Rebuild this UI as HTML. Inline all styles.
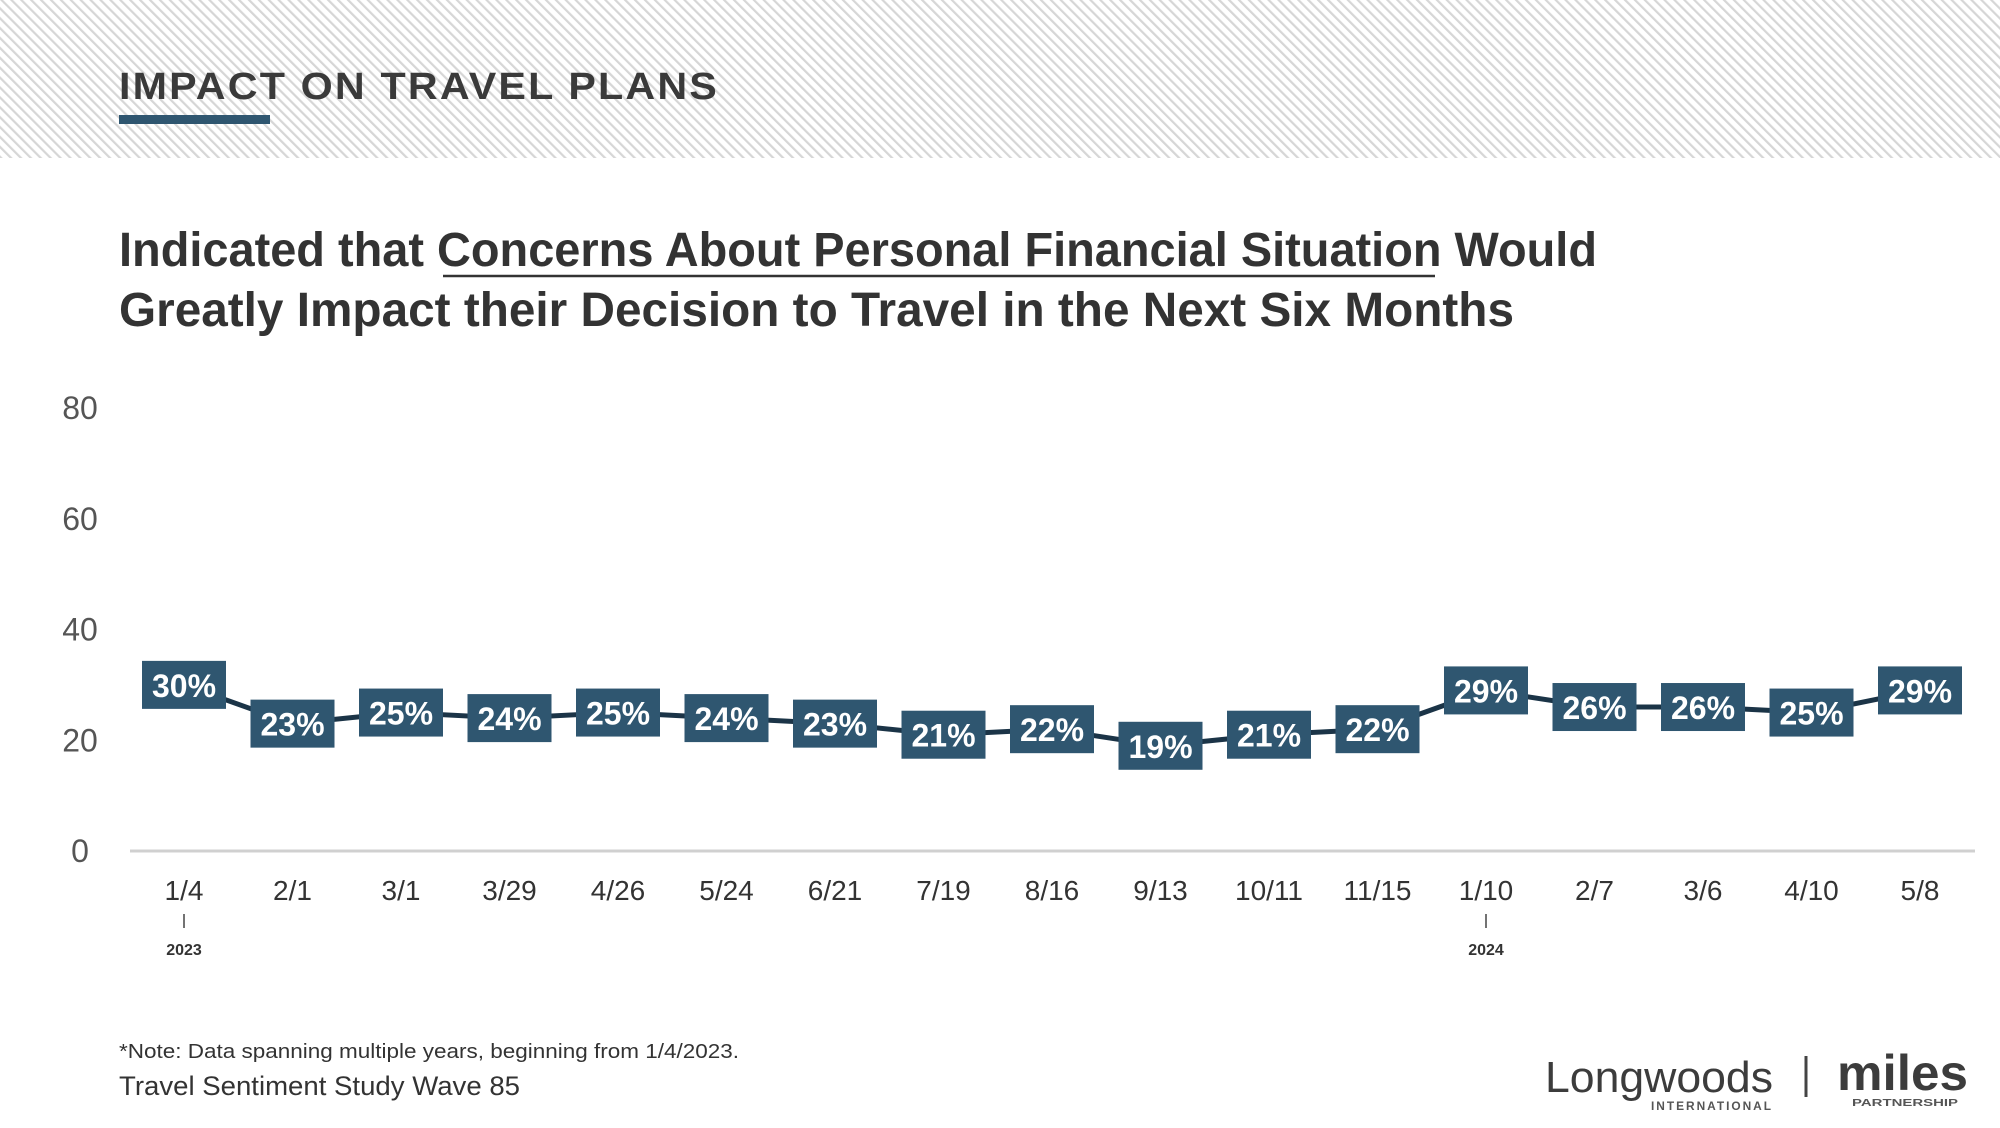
<!DOCTYPE html>
<html><head><meta charset="utf-8">
<style>
html,body{margin:0;padding:0;background:#fff;}
body{width:2000px;height:1123px;overflow:hidden;font-family:"Liberation Sans",sans-serif;}
</style></head>
<body>
<svg id="chart" width="2000" height="1123" viewBox="0 0 2000 1123" xmlns="http://www.w3.org/2000/svg">
<defs>
<pattern id="hatch" width="7" height="7" patternUnits="userSpaceOnUse" patternTransform="rotate(-45)">
<rect width="7" height="7" fill="#ffffff"/>
<rect x="0" y="0" width="2.2" height="7" fill="#d6d6d6"/>
</pattern>
</defs>
<rect x="0" y="0" width="2000" height="158" fill="url(#hatch)"/>
<text x="119" y="99" font-size="38" font-weight="bold" fill="#3a3a3a" letter-spacing="2" textLength="600" lengthAdjust="spacingAndGlyphs">IMPACT ON TRAVEL PLANS</text>
<rect x="119" y="115" width="151" height="9" fill="#2f5670"/>

<text x="119" y="266" font-size="48" font-weight="bold" fill="#333" textLength="1478" lengthAdjust="spacingAndGlyphs">Indicated that Concerns About Personal Financial Situation Would</text>
<line x1="443" y1="276" x2="1435" y2="276" stroke="#333" stroke-width="2.5"/>
<text x="119" y="326" font-size="48" font-weight="bold" fill="#333" textLength="1395" lengthAdjust="spacingAndGlyphs">Greatly Impact their Decision to Travel in the Next Six Months</text>

<g id="yaxis"></g>
<line x1="130" y1="851" x2="1975" y2="851" stroke="#d0d0d0" stroke-width="3"/>
<g id="xaxis"></g>
<g id="series"></g>

<text x="119" y="1058" font-size="20" fill="#333" textLength="620" lengthAdjust="spacingAndGlyphs">*Note: Data spanning multiple years, beginning from 1/4/2023.</text>
<text x="119" y="1095" font-size="27" fill="#333" textLength="401" lengthAdjust="spacingAndGlyphs">Travel Sentiment Study Wave 85</text>

<g>
<text x="1545" y="1092" font-size="44" fill="#3c3c3c" textLength="228" lengthAdjust="spacingAndGlyphs">Longwoods</text>
<text x="1651" y="1110" font-size="12" font-weight="bold" fill="#555" letter-spacing="2" textLength="122" lengthAdjust="spacingAndGlyphs">INTERNATIONAL</text>
</g>
<line x1="1806" y1="1056" x2="1806" y2="1097" stroke="#444" stroke-width="3"/>
<g>
<text x="1837" y="1090" font-size="50" font-weight="bold" fill="#3c3c3c" textLength="131" lengthAdjust="spacingAndGlyphs">miles</text>
<text x="1852" y="1106" font-size="10" font-weight="bold" fill="#555" textLength="106" lengthAdjust="spacingAndGlyphs">PARTNERSHIP</text>
</g>
</svg>
<script>
const categories = ["1/4","2/1","3/1","3/29","4/26","5/24","6/21","7/19","8/16","9/13","10/11","11/15","1/10","2/7","3/6","4/10","5/8"];
const values = [30,23,25,24,25,24,23,21,22,19,21,22,29,26,26,25,29];
const yTicks = [0,20,40,60,80];
const yearMarks = [{index:0,label:"2023"},{index:12,label:"2024"}];

const NS = "http://www.w3.org/2000/svg";
const x0 = 184, x1 = 1920, yBase = 851, yTop = 408, yMax = 80;
function xScale(i){ return x0 + i*(x1-x0)/(categories.length-1); }
function yScale(v){ return yBase - v*(yBase-yTop)/yMax; }
function mk(tag, attrs, parent){ const e=document.createElementNS(NS,tag); for(const k in attrs) e.setAttribute(k,attrs[k]); parent.appendChild(e); return e; }

const yg = document.getElementById('yaxis');
yTicks.forEach(t=>{
  const e = mk('text',{x:80,y:yScale(t)+11,'font-size':32,fill:'#555','text-anchor':'middle'},yg);
  
  
  e.textContent = t;
});

const xg = document.getElementById('xaxis');
categories.forEach((c,i)=>{
  const e = mk('text',{x:xScale(i),y:900,'font-size':28,fill:'#333','text-anchor':'middle'},xg);
  
  
  e.textContent = c;
});
yearMarks.forEach(m=>{
  const x = xScale(m.index);
  const l = mk('line',{x1:x,y1:914,x2:x,y2:928,stroke:'#444','stroke-width':1.5},xg);
  
  
  const t = mk('text',{x:x,y:955,'font-size':16,'font-weight':'bold',fill:'#333','text-anchor':'middle'},xg);
  
  
  t.textContent = m.label;
});

const sg = document.getElementById('series');
const pts = values.map((v,i)=>xScale(i)+','+yScale(v)).join(' ');
const line = mk('polyline',{points:pts,fill:'none',stroke:'#1b3447','stroke-width':5,'stroke-linejoin':'round'},sg);


values.forEach((v,i)=>{
  const x = xScale(i), y = yScale(v);
  const r = mk('rect',{x:x-42,y:y-24,width:84,height:48,fill:'#2f5670'},sg);
  
  
  const t = mk('text',{x:x,y:y+12,'font-size':32,'font-weight':'bold',fill:'#fff','text-anchor':'middle'},sg);
  
  
  t.textContent = v+'%';
});
</script>
</body></html>
